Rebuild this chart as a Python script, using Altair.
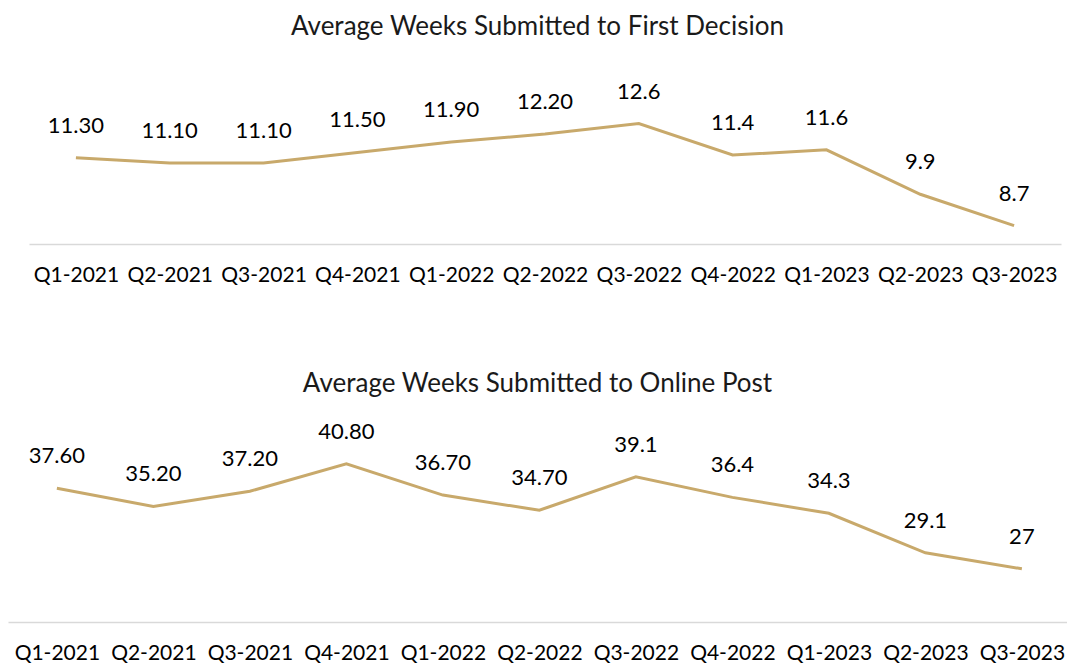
import altair as alt
import pandas as pd

quarters = ["Q1-2021", "Q2-2021", "Q3-2021", "Q4-2021", "Q1-2022", "Q2-2022",
            "Q3-2022", "Q4-2022", "Q1-2023", "Q2-2023", "Q3-2023"]
first_decision = [11.30, 11.10, 11.10, 11.50, 11.90, 12.20, 12.6, 11.4, 11.6, 9.9, 8.7]
first_labels = ["11.30", "11.10", "11.10", "11.50", "11.90", "12.20", "12.6", "11.4", "11.6", "9.9", "8.7"]
online_post = [37.60, 35.20, 37.20, 40.80, 36.70, 34.70, 39.1, 36.4, 34.3, 29.1, 27]
online_labels = ["37.60", "35.20", "37.20", "40.80", "36.70", "34.70", "39.1", "36.4", "34.3", "29.1", "27"]

FONT = "Lato"
GOLD = "#C8A96B"

df1 = pd.DataFrame({"q": quarters, "v": first_decision, "lab": first_labels})
df2 = pd.DataFrame({"q": quarters, "v": online_post, "lab": online_labels})


def panel(df, title, ydom, height, xscale, offset):
    x = alt.X("q:O", sort=quarters, title=None, scale=xscale,
              axis=alt.Axis(labelAngle=0, ticks=False, domainColor="#D9D9D9",
                            domainWidth=1.3, labelFontSize=21, labelFont=FONT,
                            labelColor="#000000", labelPadding=20, grid=False))
    y = alt.Y("v:Q", title=None, scale=alt.Scale(domain=ydom, zero=False, nice=False),
              axis=None)
    base = alt.Chart(df).encode(x=x, y=y)
    line = base.mark_line(color=GOLD, strokeWidth=3)
    text = base.mark_text(dy=-32, fontSize=22, font=FONT, color="#000000").encode(text="lab:N")
    return alt.layer(line, text).properties(
        width=1059, height=height,
        title=alt.TitleParams(title, fontSize=26, font=FONT, fontWeight="normal",
                              color="#1a1a1a", offset=offset, anchor="middle"))


top = panel(df1, "Average Weeks Submitted to First Decision", [8, 14], 157,
            alt.Scale(range=[21, 1053], padding=0.5), 41)
bottom = panel(df2, "Average Weeks Submitted to Online Post", [20, 45], 190,
               alt.Scale(range=[0, 1059], padding=0.487, align=0.52), 24)

chart = alt.vconcat(top, bottom, spacing=85).properties(
    padding={"top": 5, "left": 0, "right": 0, "bottom": 0}
).configure_view(stroke=None)

chart.save("out.html", embed_options={"renderer": "svg", "actions": False})
